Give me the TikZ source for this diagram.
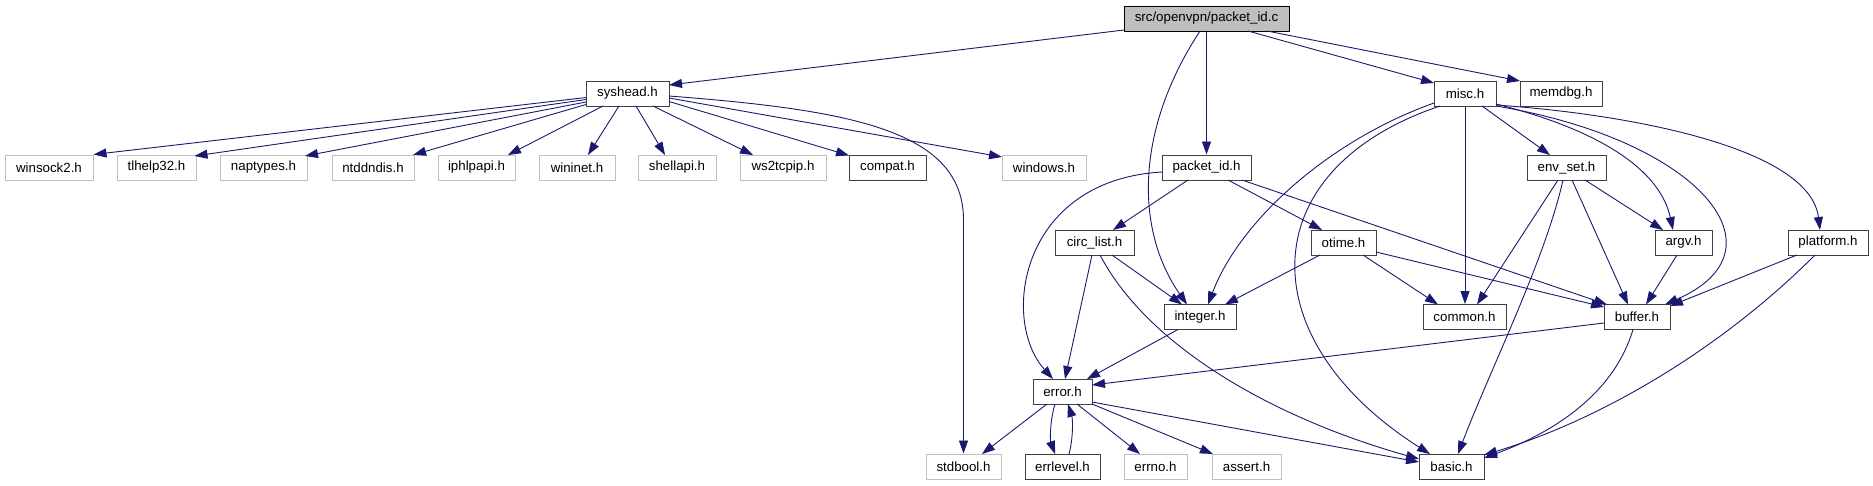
\documentclass[tikz,border=0pt]{standalone}
\usepackage{fontspec}
\setmainfont{Liberation Sans}
\usetikzlibrary{arrows.meta}
\definecolor{edgeblue}{HTML}{191970}
\definecolor{boxgray}{HTML}{404040}
\definecolor{ghost}{HTML}{BFBFBF}
\tikzset{
  hnode/.style={draw=boxgray, fill=white, line width=1pt, inner sep=0pt,
    minimum height=25pt, font=\fontsize{13.3}{15}\selectfont, text=black},
  gnode/.style={hnode, draw=ghost},
  topnode/.style={hnode, draw=black, fill=ghost},
  dep/.style={draw=edgeblue, line width=0.9pt, -{Triangle[length=13pt,width=9pt]}}
}
\begin{document}
\begin{tikzpicture}[x=1pt,y=-1pt]
\useasboundingbox (0,0) rectangle (1873,485);
% nodes
\node[topnode, minimum width=165pt] (pc) at (1206.5,18.5) {src/openvpn/packet\_id.c};
\node[hnode, minimum width=83pt] (syshead) at (627.5,93.5) {syshead.h};
\node[hnode, minimum width=62pt] (misc) at (1465,93.5) {misc.h};
\node[hnode, minimum width=82pt] (memdbg) at (1561,93.5) {memdbg.h};
\node[gnode, minimum width=88pt] (winsock) at (49,167.5) {winsock2.h};
\node[gnode, minimum width=79pt] (tlhelp) at (156.5,167.5) {tlhelp32.h};
\node[gnode, minimum width=87pt] (naptypes) at (263.5,167.5) {naptypes.h};
\node[gnode, minimum width=82pt] (ntddndis) at (373,167.5) {ntddndis.h};
\node[gnode, minimum width=77pt] (iphlpapi) at (476.5,167.5) {iphlpapi.h};
\node[gnode, minimum width=76pt] (wininet) at (577,167.5) {wininet.h};
\node[gnode, minimum width=78pt] (shellapi) at (677,167.5) {shellapi.h};
\node[gnode, minimum width=86pt] (ws2tcpip) at (783,167.5) {ws2tcpip.h};
\node[hnode, minimum width=77pt] (compat) at (887.5,167.5) {compat.h};
\node[gnode, minimum width=84pt] (windows) at (1044,167.5) {windows.h};
\node[hnode, minimum width=89pt] (pkth) at (1206.5,167.5) {packet\_id.h};
\node[hnode, minimum width=79pt] (envset) at (1566.5,167.5) {env\_set.h};
\node[hnode, minimum width=79pt] (circ) at (1094.5,242.5) {circ\_list.h};
\node[hnode, minimum width=65pt] (otime) at (1343.5,242.5) {otime.h};
\node[hnode, minimum width=57pt] (argv) at (1683.5,242.5) {argv.h};
\node[hnode, minimum width=80pt] (platform) at (1828,242.5) {platform.h};
\node[hnode, minimum width=72pt] (integer) at (1200,317) {integer.h};
\node[hnode, minimum width=83pt] (common) at (1464.5,317) {common.h};
\node[hnode, minimum width=66pt] (buffer) at (1637,317) {buffer.h};
\node[hnode, minimum width=59pt] (error) at (1062.5,391.5) {error.h};
\node[gnode, minimum width=75pt] (stdbool) at (963.5,466.5) {stdbool.h};
\node[hnode, minimum width=75pt] (errlevel) at (1062.5,466.5) {errlevel.h};
\node[gnode, minimum width=63pt] (errno) at (1155.5,466.5) {errno.h};
\node[gnode, minimum width=69pt] (assert) at (1246.5,466.5) {assert.h};
\node[hnode, minimum width=65pt] (basic) at (1451.5,466.5) {basic.h};
% packet_id.c
\draw[dep] ([shift={(-82.5,11.5)}]pc.center) -- ([shift={(41.5,-8.5)}]syshead.center);
\draw[dep] (pc.south) -- (pkth.north);
\draw[dep] ([shift={(-6.5,12.5)}]pc.center) .. controls (1135,130) and (1135,230) .. ([shift={(-13,-12.5)}]integer.center);
\draw[dep] ([shift={(41.5,12.5)}]pc.center) -- ([shift={(-31,-10.5)}]misc.center);
\draw[dep] ([shift={(60.5,12.5)}]pc.center) -- ([shift={(-41,-12.5)}]memdbg.center);
% syshead
\draw[dep] ([shift={(-41.5,4)}]syshead.center) -- (winsock.north east);
\draw[dep] ([shift={(-41.5,6)}]syshead.center) -- ([shift={(38,-11.5)}]tlhelp.center);
\draw[dep] ([shift={(-41.5,8.5)}]syshead.center) -- ([shift={(41.5,-11.5)}]naptypes.center);
\draw[dep] ([shift={(-41.5,11)}]syshead.center) -- ([shift={(40,-12.5)}]ntddndis.center);
\draw[dep] ([shift={(-24.5,12.5)}]syshead.center) -- ([shift={(31.5,-12.5)}]iphlpapi.center);
\draw[dep] ([shift={(-8.5,12.5)}]syshead.center) -- ([shift={(11,-12.5)}]wininet.center);
\draw[dep] ([shift={(8.5,12.5)}]syshead.center) -- ([shift={(-12,-12.5)}]shellapi.center);
\draw[dep] ([shift={(25.5,12.5)}]syshead.center) -- ([shift={(-30,-12.5)}]ws2tcpip.center);
\draw[dep] ([shift={(41.5,8)}]syshead.center) -- ([shift={(-38.5,-12)}]compat.center);
\draw[dep] ([shift={(41.5,4.5)}]syshead.center) -- ([shift={(-42,-10.5)}]windows.center);
\draw[dep] ([shift={(41.5,2.5)}]syshead.center) .. controls (850,110) and (963.5,130) .. (963.5,220) -- (stdbool.north);
% misc
\draw[dep] ([shift={(-31,9.5)}]misc.center) .. controls (1330,140) and (1240,220) .. ([shift={(8,-12.5)}]integer.center);
\draw[dep] ([shift={(-25,12.5)}]misc.center) .. controls (1250,170) and (1250,340) .. ([shift={(-21.5,-12.5)}]basic.center);
\draw[dep] (misc.south) -- (misc.south |- common.north);
\draw[dep] ([shift={(17,12.5)}]misc.center) -- ([shift={(-16.5,-12.5)}]envset.center);
\draw[dep] ([shift={(31,10.5)}]misc.center) .. controls (1600,130) and (1660,170) .. ([shift={(-10.5,-12.5)}]argv.center);
\draw[dep] ([shift={(31,12.5)}]misc.center) .. controls (1700,140) and (1790,250) .. ([shift={(28,-12.5)}]buffer.center);
\draw[dep] ([shift={(31,11.5)}]misc.center) .. controls (1640,115) and (1810,150) .. ([shift={(-8,-12.5)}]platform.center);
% packet_id.h
\draw[dep] ([shift={(-18.5,12.5)}]pkth.center) -- ([shift={(18.5,-12.5)}]circ.center);
\draw[dep] ([shift={(21.5,12.5)}]pkth.center) -- ([shift={(-21.5,-12.5)}]otime.center);
\draw[dep] ([shift={(35.5,12.5)}]pkth.center) -- ([shift={(-30,-12.5)}]buffer.center);
\draw[dep] ([shift={(-44.5,4.5)}]pkth.center) .. controls (1020,180) and (1000,320) .. ([shift={(-9.5,-12.5)}]error.center);
% circ_list.h
\draw[dep] ([shift={(-2.5,12.5)}]circ.center) -- ([shift={(2.5,-12.5)}]error.center);
\draw[dep] ([shift={(17.5,12.5)}]circ.center) -- ([shift={(-18,-12.5)}]integer.center);
\draw[dep] ([shift={(5.5,12.5)}]circ.center) .. controls (1150,350) and (1280,420) .. ([shift={(-32.5,-7.5)}]basic.center);
% otime.h
\draw[dep] ([shift={(-23.5,12.5)}]otime.center) -- ([shift={(25,-12.5)}]integer.center);
\draw[dep] ([shift={(19.5,12.5)}]otime.center) -- ([shift={(-26.5,-12.5)}]common.center);
\draw[dep] ([shift={(32.5,9.5)}]otime.center) -- ([shift={(-33,-10)}]buffer.center);
% env_set.h
\draw[dep] ([shift={(-8.5,12.5)}]envset.center) -- ([shift={(12.5,-12.5)}]common.center);
\draw[dep] ([shift={(-3.5,12.5)}]envset.center) .. controls (1545,260) and (1490,370) .. ([shift={(6.5,-12.5)}]basic.center);
\draw[dep] ([shift={(5.5,12.5)}]envset.center) -- ([shift={(-9,-12.5)}]buffer.center);
\draw[dep] ([shift={(18.5,12.5)}]envset.center) -- ([shift={(-20.5,-12.5)}]argv.center);
% argv.h
\draw[dep] ([shift={(-6.5,12.5)}]argv.center) -- ([shift={(9,-12.5)}]buffer.center);
% platform.h
\draw[dep] ([shift={(-31,12.5)}]platform.center) -- ([shift={(33,-11)}]buffer.center);
\draw[dep] ([shift={(-13,12.5)}]platform.center) .. controls (1720,350) and (1600,420) .. ([shift={(32.5,-11.5)}]basic.center);
% buffer.h
\draw[dep] ([shift={(-33,6)}]buffer.center) -- ([shift={(29.5,-6.5)}]error.center);
\draw[dep] ([shift={(-4,12.5)}]buffer.center) .. controls (1615,390) and (1560,430) .. ([shift={(32.5,-8.5)}]basic.center);
% integer.h
\draw[dep] ([shift={(-22,12.5)}]integer.center) -- ([shift={(24.5,-12.5)}]error.center);
% error.h
\draw[dep] ([shift={(-15.5,12.5)}]error.center) -- ([shift={(18.5,-12.5)}]stdbool.center);
\draw[dep] ([shift={(-7.5,12.5)}]error.center) .. controls (1050,420) and (1050,440) .. ([shift={(-7.5,-12.5)}]errlevel.center);
\draw[dep] ([shift={(6.5,-12.5)}]errlevel.center) .. controls (1073,440) and (1073,420) .. ([shift={(5.5,12.5)}]error.center);
\draw[dep] ([shift={(14.5,12.5)}]error.center) -- ([shift={(-15.5,-12.5)}]errno.center);
\draw[dep] ([shift={(29.5,12.5)}]error.center) -- ([shift={(-33.5,-12.5)}]assert.center);
\draw[dep] ([shift={(29.5,10.5)}]error.center) -- ([shift={(-32.5,-4.5)}]basic.center);
\end{tikzpicture}
\end{document}
